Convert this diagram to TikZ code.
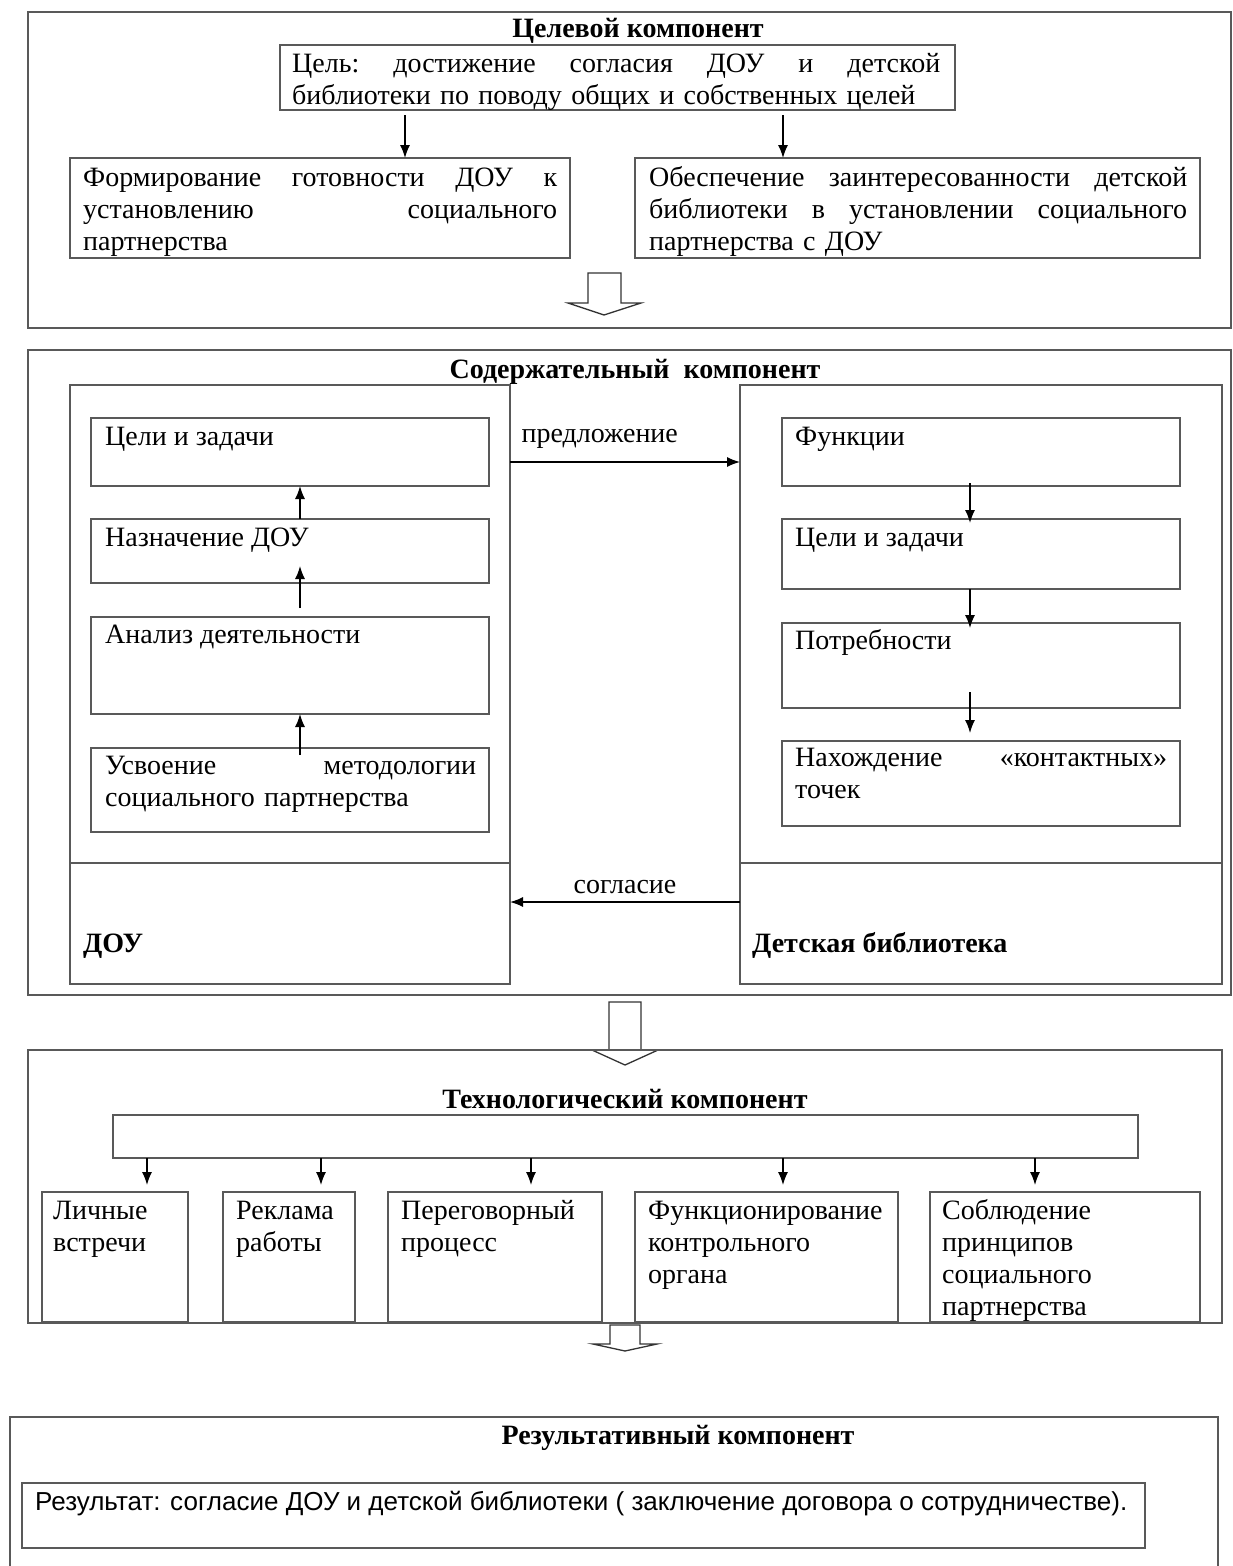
\documentclass[tikz,border=0pt]{standalone}
\usepackage{fontspec}
\setmainfont{Liberation Serif}
\newfontfamily\rserif{Liberation Serif}
\newfontfamily\rsans{Liberation Sans}
\usetikzlibrary{arrows.meta}
\begin{document}
\begin{tikzpicture}[x=1pt,y=-1pt,
  frame/.style={draw=black!65, line width=1.3pt},
  box/.style={draw=black!65, line width=1.3pt, anchor=north west, inner sep=0pt, outer sep=0pt},
  txt/.style={anchor=base west, inner sep=0pt, font=\rserif\fontsize{28}{32}\selectfont, align=left},
  ttl/.style={anchor=base, inner sep=0pt, font=\rserif\fontsize{28}{32}\selectfont\bfseries},
  lbl/.style={inner sep=0pt, font=\rserif\fontsize{28}{32}\selectfont},
  arr/.style={-{Latex[length=13pt,width=10pt]}, line width=1.4pt},
  barrow/.style={draw=black!80, line width=1.3pt, line join=miter}]
\useasboundingbox (0,0) rectangle (1233,1566);
\fill[white] (0,0) rectangle (1233,1566);

% ---------- section 1 ----------
\node[box, minimum width=1203pt, minimum height=316pt] (sec1) at (28,12) {};
\node[ttl] (t1) at (638,37) {Целевой компонент};
\node[box, minimum width=675pt, minimum height=65pt] (goal) at (280,45) {};
\node[txt, text width=648pt] (goaltxt) at (292,72) {Цель:\hfill достижение\hfill согласия\hfill ДОУ\hfill и\hfill детской\\библиотеки по поводу общих и собственных целей};
\node[box, minimum width=500pt, minimum height=100pt] (lbox) at (70,158) {};
\node[txt, text width=474pt] (lboxtxt) at (83,186) {Формирование\hfill готовности\hfill ДОУ\hfill к\\установлению\hfill социального\\партнерства};
\node[box, minimum width=565pt, minimum height=100pt] (rbox) at (635,158) {};
\node[txt, text width=538pt] (rboxtxt) at (649,186) {Обеспечение\hfill заинтересованности\hfill детской\\библиотеки\hfill в\hfill установлении\hfill социального\\партнерства с ДОУ};
\draw[arr] ([xshift=125pt,yshift=-5pt]goal.south west) -- ([xshift=125pt]goal.south west |- lbox.north);
\draw[arr] ([xshift=503pt,yshift=-5pt]goal.south west) -- ([xshift=503pt]goal.south west |- rbox.north);
\draw[barrow] (588,273) -- (588,303) -- (568,303) -- (604,315) -- (641,303) -- (621,303) -- (621,273) -- cycle;

% ---------- section 2 ----------
\node[box, minimum width=1203pt, minimum height=645pt] (sec2) at (28,350) {};
\node[ttl] (t2) at (635,378) {Содержательный\ \ компонент};
\node[box, minimum width=440pt, minimum height=599pt] (lcol) at (70,385) {};
\draw[frame] ([yshift=121pt]lcol.south west) -- ([yshift=121pt]lcol.south east);
\node[box, minimum width=482pt, minimum height=599pt] (rcol) at (740,385) {};
\draw[frame] ([yshift=121pt]rcol.south west) -- ([yshift=121pt]rcol.south east);

\node[box, minimum width=398pt, minimum height=68pt] (lb1) at (91,418) {};
\node[box, minimum width=398pt, minimum height=64pt] (lb2) at (91,519) {};
\node[box, minimum width=398pt, minimum height=97pt] (lb3) at (91,617) {};
\node[box, minimum width=398pt, minimum height=84pt] (lb4) at (91,748) {};
\node[txt] (lb1t) at (105,445) {Цели и задачи};
\node[txt] (lb2t) at (105,546) {Назначение ДОУ};
\node[txt] (lb3t) at (105,643) {Анализ деятельности};
\node[txt, text width=371pt] (lb4t) at (105,774) {Усвоение\hfill методологии\\социального партнерства};
\draw[arr] ([xshift=10pt]lb2.north) -- ([xshift=10pt]lb1.south);
\draw[arr] ([xshift=10pt,yshift=9pt]lb3.north) -- ([xshift=10pt,yshift=17pt]lb2.south);
\draw[arr] ([xshift=10pt,yshift=-7pt]lb4.north) -- ([xshift=10pt]lb3.south);

\node[box, minimum width=398pt, minimum height=68pt] (rb1) at (782,418) {};
\node[box, minimum width=398pt, minimum height=70pt] (rb2) at (782,519) {};
\node[box, minimum width=398pt, minimum height=85pt] (rb3) at (782,623) {};
\node[box, minimum width=398pt, minimum height=85pt] (rb4) at (782,741) {};
\node[txt] (rb1t) at (795,445) {Функции};
\node[txt] (rb2t) at (795,546) {Цели и задачи};
\node[txt] (rb3t) at (795,649) {Потребности};
\node[txt, text width=372pt] (rb4t) at (795,766) {Нахождение\hfill «контактных»\\точек};
\draw[arr] ([xshift=-11pt,yshift=3pt]rb1.south) -- ([xshift=-11pt,yshift=-4pt]rb2.north);
\draw[arr] ([xshift=-11pt]rb2.south) -- ([xshift=-11pt,yshift=-5pt]rb3.north);
\draw[arr] ([xshift=-11pt,yshift=16pt]rb3.south) -- ([xshift=-11pt,yshift=8pt]rb4.north);

\draw[arr] ([yshift=-77pt]lcol.north east) -- ([yshift=-77pt]rcol.north west) node[lbl, pos=0.39, above=13pt] (pred) {предложение};
\draw[arr] ([yshift=82pt]rcol.south west) -- ([yshift=82pt]lcol.south east) node[lbl, pos=0.5, above=8pt] (sogl) {согласие};
\node[txt, font=\rserif\fontsize{28}{32}\selectfont\bfseries] (dou) at (83,952) {ДОУ};
\node[txt, font=\rserif\fontsize{28}{32}\selectfont\bfseries] (lib) at (752,952) {Детская библиотека};

% ---------- arrow 2 ----------
\draw[barrow] (609,1002) -- (609,1050) -- (592,1050) -- (625,1065) -- (658,1050) -- (641,1050) -- (641,1002) -- cycle;

% ---------- section 3 ----------
\node[box, minimum width=1194pt, minimum height=273pt] (sec3) at (28,1050) {};
\node[ttl] (t3) at (625,1108) {Технологический компонент};
\node[box, minimum width=1025pt, minimum height=43pt] (br) at (113,1115) {};
\node[box, minimum width=146pt, minimum height=130pt] (k1) at (42,1192) {};
\node[box, minimum width=132pt, minimum height=130pt] (k2) at (223,1192) {};
\node[box, minimum width=214pt, minimum height=130pt] (k3) at (388,1192) {};
\node[box, minimum width=263pt, minimum height=130pt] (k4) at (635,1192) {};
\node[box, minimum width=270pt, minimum height=130pt] (k5) at (930,1192) {};
\node[txt, text width=130pt] (k1t) at (53,1219) {Личные\\встречи};
\node[txt, text width=120pt] (k2t) at (236,1219) {Реклама\\работы};
\node[txt, text width=195pt] (k3t) at (401,1219) {Переговорный\\процесс};
\node[txt, text width=245pt] (k4t) at (648,1219) {Функционирование\\контрольного\\органа};
\node[txt, text width=250pt] (k5t) at (942,1219) {Соблюдение\\принципов\\социального\\партнерства};
\draw[arr] (br.south -| 147,0) -- ([yshift=7pt]k1.north -| 147,0);
\draw[arr] (br.south -| 321,0) -- ([yshift=7pt]k2.north -| 321,0);
\draw[arr] (br.south -| 531,0) -- ([yshift=7pt]k3.north -| 531,0);
\draw[arr] (br.south -| 783,0) -- ([yshift=7pt]k4.north -| 783,0);
\draw[arr] (br.south -| 1035,0) -- ([yshift=7pt]k5.north -| 1035,0);

% ---------- arrow 3 ----------
\draw[barrow] (610,1325) -- (610,1344) -- (593,1344) -- (625,1351) -- (657,1344) -- (640,1344) -- (640,1325) -- cycle;

% ---------- section 4 ----------
\coordinate (s4bl) at (10,1570);
\coordinate (s4br) at (1218,1570);
\draw[frame] (s4bl) -- (10,1417) -- (1218,1417) -- (s4br);
\node[ttl] (t4) at (678,1444) {Результативный компонент};
\node[box, minimum width=1123pt, minimum height=65pt] (res) at (22,1483) {};
\node[txt, font=\rsans\fontsize{26}{30}\selectfont] (rest) at (35,1510) {Результат: согласие ДОУ и детской библиотеки ( заключение договора о сотрудничестве).};
\end{tikzpicture}
\end{document}
